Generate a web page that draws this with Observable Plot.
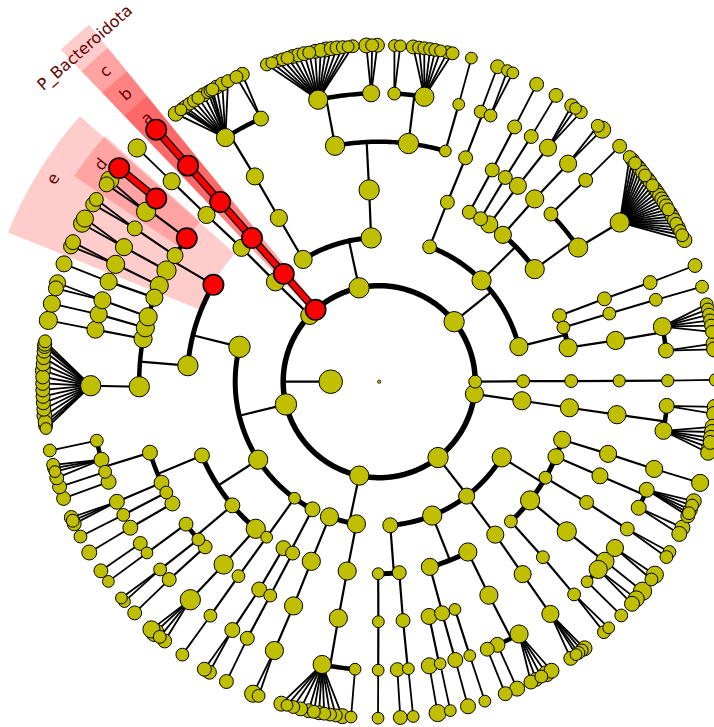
<!DOCTYPE html>
<html>
<head>
<meta charset="utf-8">
<script src="https://cdn.jsdelivr.net/npm/d3@7"></script>
<script src="https://cdn.jsdelivr.net/npm/@observablehq/plot@0.6"></script>
<style>html,body{margin:0;padding:0;background:#fff;overflow:hidden}svg{display:block}</style>
</head>
<body>
<div id="chart"></div>
<script>
// Ring radius of each taxonomic level (root .. leaf)
const levelRadius = [48.5, 96, 144, 192, 240, 288.5, 336.5];
const bracketWidth = [0, 5.5, 5, 5, 4.5, 4.5, 0];

// Node tables: [parent's angle, angle (deg clockwise from east), dot radius]
const level1 = [[180,360,6],[180,7.3,8.5],[180,52.2,9.5],[180,102,9],[180,166.3,10],[180,223.7,8.5],[180,228.5,9.5],[180,257.9,9.5],[180,321.3,9.5]];
const level2 = [[360,359.8,6],[7.3,7.6,8.5],
 [52.2,31.7,9],[52.2,52.6,7.5],[52.2,68.4,9],[52.2,85.6,7],
 [102,99.1,8.5],[102,110.2,8.5],
 [166.3,117.6,7],[166.3,126,5.5],[166.3,147.2,9],[166.3,194,10],
 [223.7,223.9,8.5],[228.5,228.5,9.5],[257.9,238.1,8.5],[257.9,266.8,9.5],
 [321.3,290.5,6.5],[321.3,315.3,9],[321.3,345.9,8.5]];
const level3 = [[359.8,359.8,6],[7.6,7.8,8.5],
 [31.7,17.6,8],[31.7,23,7.5],[31.7,30,6],[31.7,38.2,9],[31.7,46.7,6],
 [52.6,52.8,8],[68.4,62.5,8.5],[68.4,74.7,8],[85.6,84,6.5],[85.6,90.3,5.5],
 [99.1,99.6,8.5],[110.2,110.7,8.5],[117.6,116.8,6.5],[117.6,119.9,7],[126,125.9,5.5],
 [147.2,130,9],[147.2,139.9,7],[147.2,157.4,7],[194,184.8,9.5],[194,210.3,9.5],
 [223.9,224.2,8],[228.5,228.5,9.5],[238.1,238.5,8],[266.8,267,9.5],[290.5,290.8,6.5],
 [315.3,298,6.5],[315.3,301.9,6.5],[315.3,305,8],[315.3,310.1,8],[315.3,324.1,9],
 [345.9,339.9,6.5],[345.9,343.6,6],[345.9,349.8,8.5]];
const level4 = [[359.8,359.8,5.7],[7.8,7.9,8.5],[17.6,17.5,8],[23,23.1,7.5],[30,30.2,6.5],[38.2,38.6,9],[46.7,47,6],
 [52.8,53.3,8],[62.5,62.8,8.5],[74.7,71.6,5.5],[74.7,74.8,7],[74.7,78,7.5],[84,84.3,6.5],[90.3,90.2,5.5],
 [99.6,99.8,8.5],[110.7,110.9,8.5],[116.8,117,6],[119.9,120,7],[125.9,125.9,6],[130,130.4,9],
 [139.9,136.5,6.5],[139.9,138.9,6],[139.9,143.6,6.5],
 [157.4,149.5,7],[157.4,152.5,6],[157.4,155.1,7],[157.4,162.8,7],
 [184.8,178.8,9.5],[184.8,190.3,8.5],[184.8,193,8.5],[184.8,195.7,8.5],[184.8,200.5,8],
 [210.3,203.6,8.5],[210.3,207.6,9],[210.3,211.7,7.5],[210.3,216.7,9.5],
 [224.2,224,8],[228.5,228.5,9.5],[238.5,238.8,8],[267,259.4,9],[267,277,9.5],[267,286,5.5],
 [290.8,291.1,6.5],[298,298.1,6.5],[301.9,301.7,6.5],[305,305.3,8],[310.1,310.4,8.5],
 [324.1,315.7,6.5],[324.1,326,9],[339.9,339.8,6.5],[343.6,343.5,6],[349.8,350.1,8.5]];
const level5 = [[359.8,359.8,5.7],[7.9,4.8,7],[7.9,9.8,8],[17.5,17.6,8],[23.1,22,7],[23.1,25.9,7],[30.2,30.7,6.5],
 [38.6,35.2,8],[38.6,38.5,8.5],[38.6,40.6,8.5],[38.6,43.9,5.5],[47,47.5,6],[53.3,53.6,8],
 [62.8,61,8.5],[62.8,65.8,7],[62.8,68,6.5],[71.6,71.7,5.5],[74.8,74.7,7],[78,77.8,5.5],[78,80,7.5],
 [84.3,84.2,5.5],[84.3,86.4,6.5],[90.2,90.2,5.5],[99.8,94.8,5.5],[99.8,101.4,8.5],[110.9,111.3,8.5],
 [117,117.2,6.5],[120,120.6,7],[125.9,125.8,6],[130.4,130.9,9.5],[136.5,136.7,6.5],[138.9,139.4,6],
 [143.6,143.6,5.5],[143.6,145.9,6.5],[149.5,149.6,7],[152.5,152.5,6],[155.1,155.4,7],
 [162.8,159.7,7],[162.8,161.8,6],[162.8,164.3,7],[162.8,168.2,6],
 [178.8,179.2,9.5],[190.3,190.4,8],[193,193.5,8],[195.7,196.4,8],[200.5,200.3,8],[203.6,204,8.5],
 [207.6,207.8,8],[211.7,212.1,7],[216.7,216.1,9],[216.7,219.4,9.5],[224,224,8],[228.5,228.5,9.5],
 [238.8,237.8,8.5],[238.8,245.8,7],[259.4,257.8,9],[259.4,268.4,8],[277,273,6],[277,279,9],[286,286,5.5],
 [291.1,290.6,6],[291.1,292.7,6],[298.1,298,6.5],[301.7,301.8,6.5],[305.3,305.8,8],[310.4,310.9,8],
 [315.7,315.7,6.5],[326,326.5,9],[339.8,339.9,6.5],[343.5,343.5,6],[350.1,349,8.5],[350.1,353.8,7]];
const level6 = [[359.8,359.7,6],
 [4.8,4.3,7],[4.8,5.5,7],
 [9.8,7.7,7],[9.8,8.6,7],[9.8,9.6,7],[9.8,10.4,6.5],[9.8,11.3,7],[9.8,12.2,7],
 [17.6,17.5,8],
 [22,20.8,7],[22,21.6,6],[22,22.4,6.5],[22,23,6],[22,23.5,6.5],[25.9,25.7,7],[25.9,26.9,7],
 [30.7,30.4,6],[30.7,31.4,6],
 [35.2,35,8],[35.2,36,6],[38.5,38.5,8.5],[40.6,40.2,7.5],[40.6,41.3,7],[43.9,44,6],
 [47.5,47,5.5],[47.5,48.1,6],
 [53.6,52.4,7],[53.6,53,6],[53.6,53.7,6],[53.6,54.2,5.5],[53.6,55.3,6.5],
 [61,59.2,7],[61,60.2,7.5],[61,61.2,6],[61,62.2,6.5],[61,63.2,6.5],[65.8,65.8,7],[68,68,6.5],
 [71.7,71.7,5.5],[74.7,74.7,7],[77.8,77.8,5.5],[80,80,8],
 [84.2,84.2,5.5],[86.4,86.4,6.5],[90.2,90.2,5.5],[94.8,94.8,5.5],
 [101.4,96.3,7],[101.4,97.4,6],[101.4,98.4,6],[101.4,99.4,6],[101.4,100.3,6.5],[101.4,101.2,6],[101.4,102.1,6.5],
 [101.4,103.5,6.5],[101.4,104.8,6],[101.4,105.9,5.5],[101.4,106.9,7],
 [111.3,111,6],[111.3,112,8],[117.2,117,6.5],[120.6,120.3,6.5],[120.6,121.3,6.5],[125.8,125.8,6],
 [130.9,129.6,6.5],[130.9,130.7,6],[130.9,131.8,8.5],[130.9,132.6,8],
 [136.7,136.6,6.5],[139.4,139.2,5.5],[139.4,140,5.5],[143.6,143.6,5.5],[145.9,145.8,6.5],
 [149.6,149.5,7],[152.5,152.6,6],[155.4,155,6.5],[155.4,155.6,6],[155.4,156.2,6.5],
 [159.7,159.7,6.5],[161.8,161.8,6.5],[164.3,163.4,6.5],[164.3,164.5,5.5],[164.3,165.1,6],[164.3,165.7,6],[168.2,168.2,6],
 [179.2,172,5.5],[179.2,172.5,6.5],[179.2,173.1,6.5],[179.2,174.2,7],[179.2,175.3,6.5],[179.2,176.4,6.5],[179.2,177.5,6.5],[179.2,178.6,6.5],
 [179.2,179.7,6.5],[179.2,180.8,6.5],[179.2,181.9,7],[179.2,183,6.5],[179.2,184.1,6.5],[179.2,185.2,6.5],[179.2,186,6.5],[179.2,186.4,6.5],[179.2,186.9,6],
 [190.4,190.5,8.5],[193.5,193.4,8],[196.4,196.1,7],[196.4,197.1,7.5],[200.3,200.5,7.5],
 [204,203.7,7],[204,204.5,7],[207.8,208,8],[207.8,209,8],[212.1,211.8,7],[212.1,212.8,6.5],
 [216.1,215.9,7],[216.1,216.8,8.5],[219.4,219.4,9.5],[224,224,8.5],[228.5,228.5,9.5],
 [237.8,232.8,7],[237.8,233.9,5.5],[237.8,234.3,6],[237.8,234.8,6],[237.8,235.7,6],[237.8,236.6,6],[237.8,237.5,6],[237.8,238.5,6.5],
 [237.8,239.4,6],[237.8,239.9,6],[237.8,240.3,6],[237.8,241.1,6.5],[237.8,242.2,6.5],[237.8,243.3,6],
 [245.8,244.9,6],[245.8,246,6.5],
 [257.8,250.5,6],[257.8,251.4,5.5],[257.8,252.3,6],[257.8,253.3,6],[257.8,254.2,6],[257.8,255.1,6.5],[257.8,256.1,6.5],
 [257.8,257.1,6.5],[257.8,258,6],[257.8,259,6.5],[257.8,260,6.5],[257.8,260.9,7],[257.8,261.8,6.5],[257.8,262.8,6.5],
 [257.8,263.8,6],[257.8,264.7,5.5],[257.8,265.5,6],
 [268.4,267.8,7],[268.4,268.8,6],[268.4,269.7,6.5],[273,272.6,5.5],[273,273.6,5.5],
 [279,275.8,6.5],[279,276.8,6],[279,277.7,6],[279,278.7,6],[279,279.6,6],[279,280.5,5.5],[279,281.7,6],[279,282.6,6],
 [286,285.9,5.5],[290.6,290.6,6.5],[292.7,292.4,5.5],[292.7,293.4,5.5],[298,297.9,6.5],[301.8,301.7,6.5],
 [305.8,304.9,6.5],[305.8,305.7,5.5],[305.8,306.8,6],[310.9,310.5,6],[310.9,311.5,8],[315.7,315.6,6.5],
 [326.5,318.1,6],[326.5,318.8,6.5],[326.5,319.5,6],[326.5,320.1,6.5],[326.5,320.8,6.5],[326.5,321.5,6.5],[326.5,322.2,6],[326.5,322.9,6.5],
 [326.5,323.6,6.5],[326.5,324.3,6],[326.5,325,6.5],[326.5,325.7,6.5],[326.5,326.4,6.5],[326.5,327.1,6.5],[326.5,327.8,6.5],[326.5,328.5,6.5],
 [326.5,329.2,6],[326.5,329.9,6.5],[326.5,330.6,6.5],[326.5,331.3,6.5],[326.5,332,6],[326.5,332.7,6.5],[326.5,333.4,6],[326.5,334.2,6],[326.5,335.1,7],
 [339.9,339.8,6.5],[343.5,343.6,6],
 [349,346.7,6],[349,347.6,6],[349,348.5,6],[349,349.5,6],[349,350.4,6],[349,351.5,6],[353.8,353.5,7],[353.8,354.5,7]];

// Highlighted (red) clades: [level, angle]
const redNodes = [[1,228.5],[2,228.5],[3,228.5],[3,210.3],[4,228.5],[4,216.7],[5,228.5],[5,219.4],[6,228.5],[6,219.4]];

// Shaded sectors: [inner radius, outer radius, start angle, end angle]
const sectors = [[95,460,226.2,230.9],[143,430,226.2,230.9],[191,400,226.2,230.9],[239,368,226.2,230.9],
                 [193,400,201.9,221.6],[240,368,214,221.9]];
// Labels: [text, radius, angle]
const labels = [["P_Bacteroidota",445,228.6],["c",414,228.6],["b",383,228.6],["a",351,228.6],["e",384,211.9],["d",353,218]];

const rootRadius = 11, centerRadius = 1.6, dotScale = 1.07;
const olive = "#bfbf00", red = "#ff0000", labelColor = "#660000";

// ---- build the tree ----
const px = (r, a) => r * Math.cos(a * Math.PI / 180);
const py = (r, a) => r * Math.sin(a * Math.PI / 180);
const isRed = (l, a) => redNodes.some(d => d[0] === l && d[1] === a);
const tables = [[[null, 180, rootRadius]], level1, level2, level3, level4, level5, level6];
const nodes = [];
const index = new Map();
tables.forEach((tbl, level) => tbl.forEach(([parent, angle, size]) => {
  const n = {level, angle, size: size * dotScale, parent, children: [], red: isRed(level, angle), r: levelRadius[level]};
  n.x = px(n.r, angle); n.y = py(n.r, angle);
  nodes.push(n);
  index.set(level + ":" + angle, n);
  if (level > 0) {
    const p = index.get((level - 1) + ":" + parent);
    if (!p) console.error("missing parent", level, parent);
    else p.children.push(n);
  }
}));

const thin = [], thinLeaf = [], redLinks = [], arcs = [];
for (const n of nodes) {
  const k = n.children;
  if (!k.length) continue;
  if (k.length === 1 || n.level === 5) {
    for (const c of k) {
      const link = {x1: n.x, y1: n.y, x2: c.x, y2: c.y};
      if (n.red && c.red && k.length === 1) redLinks.push(link);
      else (n.level === 5 ? thinLeaf : thin).push(link);
    }
  } else {
    const rc = levelRadius[n.level + 1];
    thin.push({x1: n.x, y1: n.y, x2: px(rc, n.angle), y2: py(rc, n.angle)});
    const [a0, a1] = d3.extent(k, c => c.angle);
    const id = n.level + ":" + n.angle;
    const w = bracketWidth[n.level + 1];
    const as = d3.range(a0, a1, 0.5).concat([a1]);
    for (const a of as) arcs.push({id, w, x: px(rc, a), y: py(rc, a)});
  }
}

const sectorPts = [];
sectors.forEach(([r0, r1, a0, a1], i) => {
  const as = d3.range(a0, a1, 0.5).concat([a1]);
  for (const a of as) sectorPts.push({i, x: px(r1, a), y: py(r1, a)});
  for (const a of as.slice().reverse()) sectorPts.push({i, x: px(r0, a), y: py(r0, a)});
});

const labelData = labels.map(([t, r, a]) => ({t, x: px(r, a), y: py(r, a), rot: a - 270}));

const chart = Plot.plot({
  width: 714, height: 727,
  margin: 0, marginTop: 0, marginRight: 0, marginBottom: 0, marginLeft: 0,
  x: {domain: [-378.7, 335.3], range: [0, 714], axis: null},
  y: {domain: [-381.2, 345.8], range: [0, 727], axis: null},
  r: {type: "identity"},
  marks: [
    Plot.line(sectorPts, {x: "x", y: "y", z: "i", fill: "#ff0000", fillOpacity: 0.2, stroke: "none"}),
    Plot.text(labelData, {x: "x", y: "y", text: "t", rotate: "rot", fill: labelColor, fontSize: 16, fontFamily: "DejaVu Sans"}),
    Plot.link(thin, {x1: "x1", y1: "y1", x2: "x2", y2: "y2", stroke: "#000", strokeWidth: 2.2}),
    Plot.link(thinLeaf, {x1: "x1", y1: "y1", x2: "x2", y2: "y2", stroke: "#000", strokeWidth: 1.8}),
    Plot.line(arcs, {x: "x", y: "y", z: "id", stroke: "#000", strokeWidth: "w", strokeLinecap: "butt"}),
    Plot.link(redLinks, {x1: "x1", y1: "y1", x2: "x2", y2: "y2", stroke: "#000", strokeWidth: 8}),
    Plot.link(redLinks, {x1: "x1", y1: "y1", x2: "x2", y2: "y2", stroke: red, strokeWidth: 5.5}),
    Plot.dot(nodes.filter(d => !d.red), {x: "x", y: "y", r: "size", fill: olive, stroke: "#000", strokeWidth: 1}),
    Plot.dot(nodes.filter(d => d.red), {x: "x", y: "y", r: "size", fill: red, stroke: "#000", strokeWidth: 1.6}),
    Plot.dot([{x: 0, y: 0}], {x: "x", y: "y", r: centerRadius, fill: olive, stroke: "#000", strokeWidth: 0.8})
  ]
});
document.getElementById("chart").append(chart);
</script>
</body>
</html>
